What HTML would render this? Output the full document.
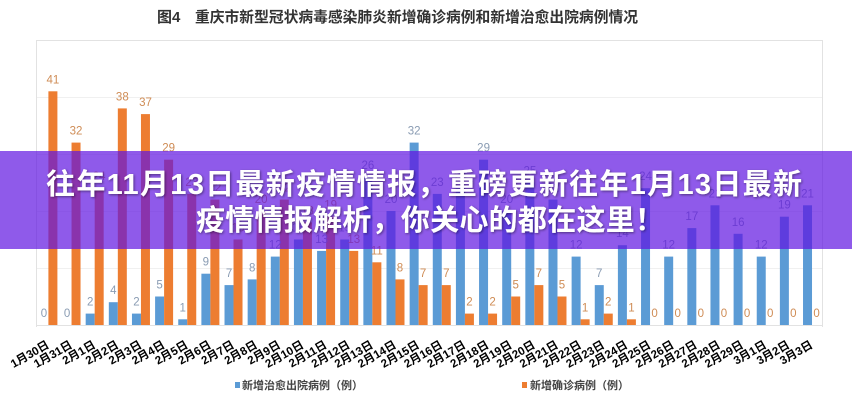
<!DOCTYPE html>
<html><head><meta charset="utf-8"><style>
html,body{margin:0;padding:0;background:#fff;}
svg{display:block;}
.b{fill:#5b9bd5;}
.o{fill:#ed7d31;}
.lb{font-family:"Liberation Sans",sans-serif;font-size:11.5px;fill:#8a9cb3;text-anchor:middle;}
.lo{font-family:"Liberation Sans",sans-serif;font-size:11.5px;fill:#cf8c55;text-anchor:middle;}
.xl{font-family:"Liberation Sans","Noto Sans CJK SC",sans-serif;font-size:11.5px;font-weight:bold;fill:#000;text-anchor:end;}
.lg{font-family:"Liberation Sans","Noto Sans CJK SC",sans-serif;font-size:11px;font-weight:bold;fill:#444;}
.ti{font-family:"Liberation Sans","Noto Sans CJK SC",sans-serif;font-size:15px;font-weight:bold;fill:#333;}
.bn{font-family:"Liberation Sans","Noto Sans CJK SC",sans-serif;font-size:29px;font-weight:bold;fill:#fff;}
</style></head><body>
<svg width="852" height="400" viewBox="0 0 852 400" xmlns="http://www.w3.org/2000/svg">
<defs><filter id="sh" x="-5%" y="-30%" width="110%" height="160%"><feDropShadow dx="1" dy="1" stdDeviation="1.2" flood-color="#000" flood-opacity="0.45"/></filter></defs>
<rect width="852" height="400" fill="#fff"/>
<text class="ti" x="157" y="22">图4</text>
<text class="ti" x="195" y="22" textLength="443" lengthAdjust="spacingAndGlyphs">重庆市新型冠状病毒感染肺炎新增确诊病例和新增治愈出院病例情况</text>
<g stroke="#f0f0f0" stroke-width="1">
<line x1="37" y1="97.5" x2="822" y2="97.5"/><line x1="37" y1="154.5" x2="822" y2="154.5"/><line x1="37" y1="211.5" x2="822" y2="211.5"/><line x1="37" y1="268.5" x2="822" y2="268.5"/>
</g>
<g stroke="#e2e2e2" stroke-width="1" fill="none">
<line x1="37" y1="40.5" x2="822" y2="40.5"/>
<line x1="36.5" y1="40" x2="36.5" y2="327"/>
<line x1="822.5" y1="40" x2="822.5" y2="327"/>
<line x1="37" y1="325.5" x2="822" y2="325.5"/>
</g>

<g transform="translate(48.4,0)"><rect class="o" x="0" y="91.3" width="9" height="233.7"/><text class="lb" x="-4.5" y="317">0</text><text class="lo" x="4.5" y="83.3">41</text><text class="xl" transform="translate(1.6,347) rotate(-30)">1月30日</text></g>
<g transform="translate(71.54,0)"><rect class="o" x="0" y="142.6" width="9" height="182.4"/><text class="lb" x="-4.5" y="317">0</text><text class="lo" x="4.5" y="134.6">32</text><text class="xl" transform="translate(1.6,347) rotate(-30)">1月31日</text></g>
<g transform="translate(94.68,0)"><rect class="b" x="-9" y="313.6" width="9" height="11.4"/><rect class="o" x="0" y="188.2" width="9" height="136.8"/><text class="lb" x="-4.5" y="305.6">2</text><text class="lo" x="4.5" y="180.2">24</text><text class="xl" transform="translate(1.6,347) rotate(-30)">2月1日</text></g>
<g transform="translate(117.82,0)"><rect class="b" x="-9" y="302.2" width="9" height="22.8"/><rect class="o" x="0" y="108.4" width="9" height="216.6"/><text class="lb" x="-4.5" y="294.2">4</text><text class="lo" x="4.5" y="100.4">38</text><text class="xl" transform="translate(1.6,347) rotate(-30)">2月2日</text></g>
<g transform="translate(140.96,0)"><rect class="b" x="-9" y="313.6" width="9" height="11.4"/><rect class="o" x="0" y="114.1" width="9" height="210.9"/><text class="lb" x="-4.5" y="305.6">2</text><text class="lo" x="4.5" y="106.1">37</text><text class="xl" transform="translate(1.6,347) rotate(-30)">2月3日</text></g>
<g transform="translate(164.1,0)"><rect class="b" x="-9" y="296.5" width="9" height="28.5"/><rect class="o" x="0" y="159.7" width="9" height="165.3"/><text class="lb" x="-4.5" y="288.5">5</text><text class="lo" x="4.5" y="151.7">29</text><text class="xl" transform="translate(1.6,347) rotate(-30)">2月4日</text></g>
<g transform="translate(187.24,0)"><rect class="b" x="-9" y="319.3" width="9" height="5.7"/><rect class="o" x="0" y="193.9" width="9" height="131.1"/><text class="lb" x="-4.5" y="311.3">1</text><text class="lo" x="4.5" y="185.9">23</text><text class="xl" transform="translate(1.6,347) rotate(-30)">2月5日</text></g>
<g transform="translate(210.38,0)"><rect class="b" x="-9" y="273.7" width="9" height="51.3"/><rect class="o" x="0" y="199.6" width="9" height="125.4"/><text class="lb" x="-4.5" y="265.7">9</text><text class="lo" x="4.5" y="191.6">22</text><text class="xl" transform="translate(1.6,347) rotate(-30)">2月6日</text></g>
<g transform="translate(233.52,0)"><rect class="b" x="-9" y="285.1" width="9" height="39.9"/><rect class="o" x="0" y="239.5" width="9" height="85.5"/><text class="lb" x="-4.5" y="277.1">7</text><text class="lo" x="4.5" y="231.5">15</text><text class="xl" transform="translate(1.6,347) rotate(-30)">2月7日</text></g>
<g transform="translate(256.66,0)"><rect class="b" x="-9" y="279.4" width="9" height="45.6"/><rect class="o" x="0" y="211" width="9" height="114"/><text class="lb" x="-4.5" y="271.4">8</text><text class="lo" x="4.5" y="203">20</text><text class="xl" transform="translate(1.6,347) rotate(-30)">2月8日</text></g>
<g transform="translate(279.8,0)"><rect class="b" x="-9" y="256.6" width="9" height="68.4"/><rect class="o" x="0" y="199.6" width="9" height="125.4"/><text class="lb" x="-4.5" y="248.6">12</text><text class="lo" x="4.5" y="191.6">22</text><text class="xl" transform="translate(1.6,347) rotate(-30)">2月9日</text></g>
<g transform="translate(302.94,0)"><rect class="b" x="-9" y="239.5" width="9" height="85.5"/><rect class="o" x="0" y="222.4" width="9" height="102.6"/><text class="lb" x="-4.5" y="231.5">15</text><text class="lo" x="4.5" y="214.4">18</text><text class="xl" transform="translate(1.6,347) rotate(-30)">2月10日</text></g>
<g transform="translate(326.08,0)"><rect class="b" x="-9" y="250.9" width="9" height="74.1"/><rect class="o" x="0" y="216.7" width="9" height="108.3"/><text class="lb" x="-4.5" y="242.9">13</text><text class="lo" x="4.5" y="208.7">19</text><text class="xl" transform="translate(1.6,347) rotate(-30)">2月11日</text></g>
<g transform="translate(349.22,0)"><rect class="b" x="-9" y="239.5" width="9" height="85.5"/><rect class="o" x="0" y="250.9" width="9" height="74.1"/><text class="lb" x="-4.5" y="231.5">15</text><text class="lo" x="4.5" y="242.9">13</text><text class="xl" transform="translate(1.6,347) rotate(-30)">2月12日</text></g>
<g transform="translate(372.36,0)"><rect class="b" x="-9" y="176.8" width="9" height="148.2"/><rect class="o" x="0" y="262.3" width="9" height="62.7"/><text class="lb" x="-4.5" y="168.8">26</text><text class="lo" x="4.5" y="254.3">11</text><text class="xl" transform="translate(1.6,347) rotate(-30)">2月13日</text></g>
<g transform="translate(395.5,0)"><rect class="b" x="-9" y="211" width="9" height="114"/><rect class="o" x="0" y="279.4" width="9" height="45.6"/><text class="lb" x="-4.5" y="203">20</text><text class="lo" x="4.5" y="271.4">8</text><text class="xl" transform="translate(1.6,347) rotate(-30)">2月14日</text></g>
<g transform="translate(418.64,0)"><rect class="b" x="-9" y="142.6" width="9" height="182.4"/><rect class="o" x="0" y="285.1" width="9" height="39.9"/><text class="lb" x="-4.5" y="134.6">32</text><text class="lo" x="4.5" y="277.1">7</text><text class="xl" transform="translate(1.6,347) rotate(-30)">2月15日</text></g>
<g transform="translate(441.78,0)"><rect class="b" x="-9" y="193.9" width="9" height="131.1"/><rect class="o" x="0" y="285.1" width="9" height="39.9"/><text class="lb" x="-4.5" y="185.9">23</text><text class="lo" x="4.5" y="277.1">7</text><text class="xl" transform="translate(1.6,347) rotate(-30)">2月16日</text></g>
<g transform="translate(464.92,0)"><rect class="b" x="-9" y="188.2" width="9" height="136.8"/><rect class="o" x="0" y="313.6" width="9" height="11.4"/><text class="lb" x="-4.5" y="180.2">24</text><text class="lo" x="4.5" y="305.6">2</text><text class="xl" transform="translate(1.6,347) rotate(-30)">2月17日</text></g>
<g transform="translate(488.06,0)"><rect class="b" x="-9" y="159.7" width="9" height="165.3"/><rect class="o" x="0" y="313.6" width="9" height="11.4"/><text class="lb" x="-4.5" y="151.7">29</text><text class="lo" x="4.5" y="305.6">2</text><text class="xl" transform="translate(1.6,347) rotate(-30)">2月18日</text></g>
<g transform="translate(511.2,0)"><rect class="b" x="-9" y="211" width="9" height="114"/><rect class="o" x="0" y="296.5" width="9" height="28.5"/><text class="lb" x="-4.5" y="203">20</text><text class="lo" x="4.5" y="288.5">5</text><text class="xl" transform="translate(1.6,347) rotate(-30)">2月19日</text></g>
<g transform="translate(534.34,0)"><rect class="b" x="-9" y="182.5" width="9" height="142.5"/><rect class="o" x="0" y="285.1" width="9" height="39.9"/><text class="lb" x="-4.5" y="174.5">25</text><text class="lo" x="4.5" y="277.1">7</text><text class="xl" transform="translate(1.6,347) rotate(-30)">2月20日</text></g>
<g transform="translate(557.48,0)"><rect class="b" x="-9" y="199.6" width="9" height="125.4"/><rect class="o" x="0" y="296.5" width="9" height="28.5"/><text class="lb" x="-4.5" y="191.6">22</text><text class="lo" x="4.5" y="288.5">5</text><text class="xl" transform="translate(1.6,347) rotate(-30)">2月21日</text></g>
<g transform="translate(580.62,0)"><rect class="b" x="-9" y="256.6" width="9" height="68.4"/><rect class="o" x="0" y="319.3" width="9" height="5.7"/><text class="lb" x="-4.5" y="248.6">12</text><text class="lo" x="4.5" y="311.3">1</text><text class="xl" transform="translate(1.6,347) rotate(-30)">2月22日</text></g>
<g transform="translate(603.76,0)"><rect class="b" x="-9" y="285.1" width="9" height="39.9"/><rect class="o" x="0" y="313.6" width="9" height="11.4"/><text class="lb" x="-4.5" y="277.1">7</text><text class="lo" x="4.5" y="305.6">2</text><text class="xl" transform="translate(1.6,347) rotate(-30)">2月23日</text></g>
<g transform="translate(626.9,0)"><rect class="b" x="-9" y="245.2" width="9" height="79.8"/><rect class="o" x="0" y="319.3" width="9" height="5.7"/><text class="lb" x="-4.5" y="237.2">14</text><text class="lo" x="4.5" y="311.3">1</text><text class="xl" transform="translate(1.6,347) rotate(-30)">2月24日</text></g>
<g transform="translate(650.04,0)"><rect class="b" x="-9" y="188.2" width="9" height="136.8"/><text class="lb" x="-4.5" y="180.2">24</text><text class="lo" x="4.5" y="317">0</text><text class="xl" transform="translate(1.6,347) rotate(-30)">2月25日</text></g>
<g transform="translate(673.18,0)"><rect class="b" x="-9" y="256.6" width="9" height="68.4"/><text class="lb" x="-4.5" y="248.6">12</text><text class="lo" x="4.5" y="317">0</text><text class="xl" transform="translate(1.6,347) rotate(-30)">2月26日</text></g>
<g transform="translate(696.32,0)"><rect class="b" x="-9" y="228.1" width="9" height="96.9"/><text class="lb" x="-4.5" y="220.1">17</text><text class="lo" x="4.5" y="317">0</text><text class="xl" transform="translate(1.6,347) rotate(-30)">2月27日</text></g>
<g transform="translate(719.46,0)"><rect class="b" x="-9" y="205.3" width="9" height="119.7"/><text class="lb" x="-4.5" y="197.3">21</text><text class="lo" x="4.5" y="317">0</text><text class="xl" transform="translate(1.6,347) rotate(-30)">2月28日</text></g>
<g transform="translate(742.6,0)"><rect class="b" x="-9" y="233.8" width="9" height="91.2"/><text class="lb" x="-4.5" y="225.8">16</text><text class="lo" x="4.5" y="317">0</text><text class="xl" transform="translate(1.6,347) rotate(-30)">2月29日</text></g>
<g transform="translate(765.74,0)"><rect class="b" x="-9" y="256.6" width="9" height="68.4"/><text class="lb" x="-4.5" y="248.6">12</text><text class="lo" x="4.5" y="317">0</text><text class="xl" transform="translate(1.6,347) rotate(-30)">3月1日</text></g>
<g transform="translate(788.88,0)"><rect class="b" x="-9" y="216.7" width="9" height="108.3"/><text class="lb" x="-4.5" y="208.7">19</text><text class="lo" x="4.5" y="317">0</text><text class="xl" transform="translate(1.6,347) rotate(-30)">3月2日</text></g>
<g transform="translate(812.02,0)"><rect class="b" x="-9" y="205.3" width="9" height="119.7"/><text class="lb" x="-4.5" y="197.3">21</text><text class="lo" x="4.5" y="317">0</text><text class="xl" transform="translate(1.6,347) rotate(-30)">3月3日</text></g>

<rect class="b" x="235" y="382" width="5" height="6"/>
<text class="lg" x="242" y="389">新增治愈出院病例（例）</text>
<rect class="o" x="522" y="382" width="5" height="6"/>
<text class="lg" x="530" y="389">新增确诊病例（例）</text>

<rect x="0" y="151" width="852" height="98" fill="rgb(95,20,225)" fill-opacity="0.7"/>
<g filter="url(#sh)">
<text class="bn" x="46" y="194" textLength="756" lengthAdjust="spacing">往年11月13日最新疫情情报，重磅更新往年1月13日最新</text>
<text class="bn" x="196" y="230" textLength="468" lengthAdjust="spacing">疫情情报解析，你关心的都在这里！</text>
</g>
</svg>
</body></html>
